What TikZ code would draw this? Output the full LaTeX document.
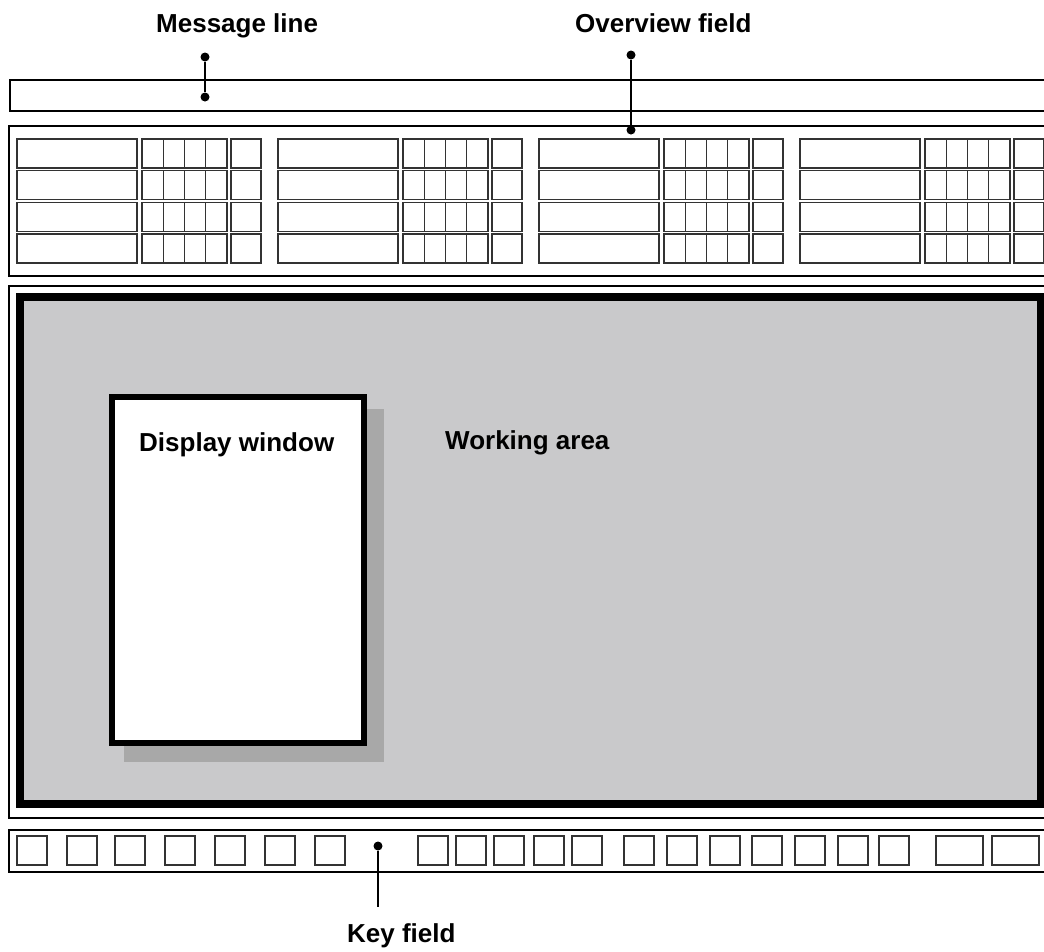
\documentclass[tikz,border=0pt]{standalone}
\usepackage{fontspec}
\setmainfont{Liberation Sans}
\usepackage{xcolor}
\usepackage{tikz}
\usetikzlibrary{positioning, calc}
\definecolor{workgray}{HTML}{C9C9CB}
\definecolor{shadowgray}{HTML}{A8A8A8}

\begin{document}
\begin{tikzpicture}[
    x=1pt, y=-1pt,
    panel/.style={rectangle, draw, line width=2pt, inner sep=0pt, outer sep=0pt, anchor=north west},
    cell/.style={rectangle, draw=black!80, line width=1.4pt, inner sep=0pt, outer sep=0pt, anchor=north west, minimum height=29pt},
    keybox/.style={cell, minimum width=30pt},
    label/.style={font=\fontsize{26}{30}\selectfont\bfseries, inner sep=0pt, anchor=base west},
    pin/.style={circle, fill, inner sep=0pt, minimum size=9pt},
    lead/.style={line width=2.8pt}
]
\clip (0,0) rectangle (1044,951);
\fill[white] (0,0) rectangle (1044,951);

\node[panel, minimum width=1040pt, minimum height=31pt] (msgline) at (10,80) {};
\node[panel, minimum width=1040pt, minimum height=150pt] (overview) at (9,126) {};
\node[panel, minimum width=1040pt, minimum height=532pt] (workpanel) at (9,286) {};
\node[panel, minimum width=1040pt, minimum height=42pt] (keyfield) at (9,830) {};

\node[rectangle, draw, line width=8pt, fill=workgray, inner sep=0pt, outer sep=0pt, anchor=north west,
      minimum width=1021pt, minimum height=507pt] (workarea) at (20,297) {};

\foreach \g in {0,...,3}
  \foreach \r in {0,...,3} {
    \pgfmathsetmacro{\gx}{17+261*\g}
    \pgfmathsetmacro{\ry}{139+31.7*\r}
    \node[cell, minimum width=120pt] (name-\g-\r) at (\gx,\ry) {};
    \foreach \c in {0,...,3}
      \node[cell, minimum width=21.25pt] (grid-\g-\r-\c) at (\gx+125+21.25*\c,\ry) {};
    \node[cell, minimum width=30pt] (flag-\g-\r) at (\gx+214,\ry) {};
  }

\node[rectangle, fill=shadowgray, inner sep=0pt, outer sep=0pt, anchor=north west,
      minimum width=260pt, minimum height=353pt] (shadow) at (124,409) {};
\node[rectangle, draw, line width=6.5pt, fill=white, inner sep=0pt, outer sep=0pt, anchor=north west,
      minimum width=252pt, minimum height=346pt] (window) at (112,397) {};

\node[label] (windowlabel) at (139,451) {Display window};
\node[label] (worklabel) at (445,449) {Working area};
\node[label] (msglabel) at (156,32) {Message line};
\node[label] (ovlabel) at (575,32) {Overview field};
\node[label] (keylabel) at (347,942) {Key field};

\foreach \x [count=\i] in {17,67,115,165,215,265,315,418,456,494,534,572,624,667,710,752,795,838,879}
  \node[keybox] (key\i) at (\x,836) {};
\node[keybox, minimum width=47pt] (key20) at (936,836) {};
\node[keybox, minimum width=47pt] (key21) at (992,836) {};

\node[pin] (msgtop) at (205,57) {};
\node[pin] (msgpin) at (205,97) {};
\node[pin] (ovtop) at (631,55) {};
\node[pin] (ovpin) at (631,130) {};
\node[pin] (keypin) at (378,846) {};
\coordinate (keyend) at (378,907);

\draw[lead] (msgtop) -- (msgpin);
\draw[lead] (ovtop) -- (ovpin);
\draw[lead] (keypin) -- (keyend);

\end{tikzpicture}
\end{document}
